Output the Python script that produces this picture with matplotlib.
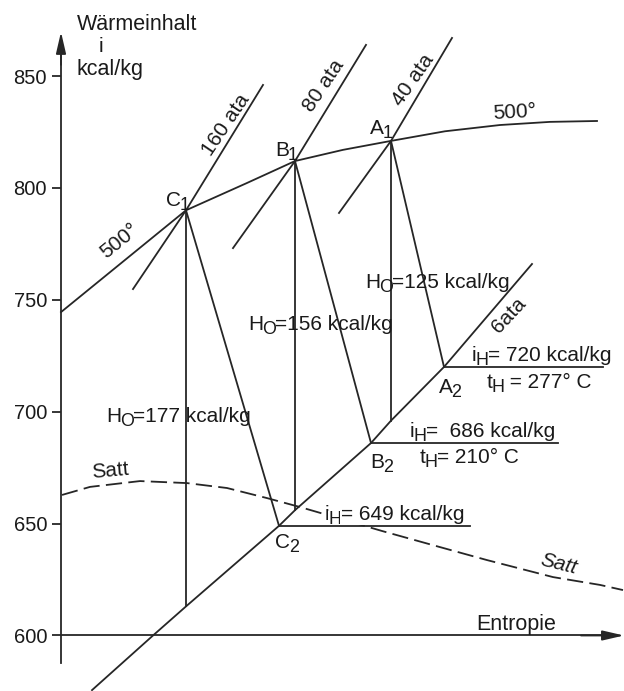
import matplotlib
matplotlib.use("Agg")
import matplotlib.pyplot as plt
import matplotlib.transforms as mtransforms

plt.rcParams['font.family'] = ['Liberation Sans', 'DejaVu Sans']

# ---------------- data (entropy s, enthalpy i in kcal/kg) ----------------
state_names = ["A", "B", "C"]
p_inlet = [40, 80, 160]                 # ata
s_1 = [1.710, 1.614, 1.505]             # inlet states (500 °C)
i_1 = [821, 812, 790]
H_0 = [125, 156, 177]                   # isentropic heat drop
s_2 = [1.763, 1.690, 1.598]             # outlet states on 6 ata
i_2 = [720, 686, 649]                   # i_H
t_H = [277, 210, None]
s_H_end = [1.922, 1.877, 1.789]         # right end of i_H reference lines

# 500 °C isotherm
s_500 = [1.380, 1.505, 1.566, 1.614, 1.662, 1.710, 1.764, 1.819, 1.869, 1.916]
i_500 = [744.5, 790.0, 802.2, 812.0, 817.0, 821.0, 825.3, 828.1, 829.5, 829.9]

# high pressure isobars
s_160 = [1.452, 1.505, 1.582]
i_160 = [754.8, 790.0, 846.0]
s_80 = [1.552, 1.614, 1.685]
i_80 = [773.1, 812.0, 863.9]
s_40 = [1.658, 1.710, 1.771]
i_40 = [788.8, 821.0, 867.0]

# 6 ata back-pressure isobar
s_6 = [1.411, 1.472, 1.505, 1.598, 1.614, 1.690, 1.710, 1.763, 1.851]
i_6 = [575.6, 600.0, 613.0, 649.0, 656.0, 686.0, 696.0, 720.0, 766.0]

# saturation line
s_sat = [1.381, 1.409, 1.459, 1.506, 1.546, 1.586, 1.619, 1.636, 1.701,
         1.759, 1.806, 1.872, 1.919, 1.942]
i_sat = [662.8, 666.4, 669.0, 668.1, 665.9, 661.4, 657.4, 655.2, 646.7,
         639.5, 633.7, 626.1, 622.6, 620.3]

i_ticks = [600, 650, 700, 750, 800, 850]

# ---------------- figure ----------------
W, H = 624, 691
fig = plt.figure(figsize=(W / 100, H / 100), dpi=100)
ax = fig.add_axes([0, 0, 1, 1])
ax.set_xlim(1.319, 1.943)
ax.set_ylim(575.2, 883.96)

LC = '#262626'
TC = '#1a1a1a'
LW = 1.3
FS = 15
SUB = 0.86      # subscript scale
DROP = 3.0      # subscript drop (points)

# axes (spines)
S_AX = 1.380
for side in ('top', 'right'):
    ax.spines[side].set_visible(False)
ax.spines['left'].set_position(('data', S_AX))
ax.spines['left'].set_bounds(587.7, 862)
ax.spines['bottom'].set_position(('data', 600))
ax.spines['bottom'].set_bounds(S_AX, 1.93)
for side in ('left', 'bottom'):
    ax.spines[side].set_color(LC)
    ax.spines[side].set_linewidth(LW)
ax.set_xticks([])
ax.set_yticks(i_ticks)
ax.set_yticklabels([str(v) for v in i_ticks])
ax.tick_params(axis='y', direction='out', length=6.5, width=LW, color=LC,
               pad=3.5, labelsize=14.5, labelcolor=TC)

arrow_kw = dict(arrowstyle='-|>,head_length=1.3,head_width=0.3', color=LC,
                lw=LW, shrinkA=0, shrinkB=0, mutation_scale=10)
ax.annotate('', xy=(S_AX, 869.7), xytext=(S_AX, 855), arrowprops=arrow_kw)
ax.annotate('', xy=(1.943, 600), xytext=(1.90, 600), arrowprops=arrow_kw)

# curves
ax.plot(s_500, i_500, color=LC, lw=LW, zorder=3)
ax.plot(s_160, i_160, color=LC, lw=LW, zorder=3)
ax.plot(s_80, i_80, color=LC, lw=LW, zorder=3)
ax.plot(s_40, i_40, color=LC, lw=LW, zorder=3)
ax.plot(s_6, i_6, color=LC, lw=LW, zorder=3)
ax.plot(s_sat, i_sat, color=LC, lw=LW, linestyle=(0, (9, 3.5)), zorder=2)

for s1, i1, h0, s2, i2, se in zip(s_1, i_1, H_0, s_2, i_2, s_H_end):
    ax.plot([s1, s1], [i1, i1 - h0], color=LC, lw=LW, zorder=3)   # isentropic
    ax.plot([s1, s2], [i1, i2], color=LC, lw=LW, zorder=3)        # real expansion
    ax.plot([s2, se], [i2, i2], color=LC, lw=LW, zorder=3)        # i_H line

# ---------------- text helpers ----------------
PX = mtransforms.Affine2D().scale(1, -1).translate(0, H)   # pixel coords, y down


def chain(t1, sub, rest, size, zorder=5, bbox=None):
    """Append a subscript and trailing text after text t1."""
    t2 = ax.annotate(sub, xy=(1, 0), xycoords=t1, xytext=(-0.9, -DROP),
                     textcoords='offset points', ha='left', va='bottom',
                     fontsize=size * SUB, color=TC, zorder=zorder, bbox=bbox)
    if rest:
        ax.annotate(rest, xy=(1, 0), xycoords=t2, xytext=(-0.3, DROP),
                    textcoords='offset points', ha='left', va='bottom',
                    fontsize=size, color=TC, zorder=zorder, bbox=bbox)


def plabel(s, i, base, sub, dx, dy):
    t1 = ax.annotate(base, xy=(s, i), xytext=(dx, dy), textcoords='offset pixels',
                     ha='left', va='baseline', fontsize=FS, color=TC, zorder=5)
    chain(t1, sub, '', FS)


def ptext(x, y, txt, ha='left', va='baseline', rot=0, size=FS, **kw):
    return ax.text(x, y, txt, transform=PX, ha=ha, va=va, rotation=rot,
                   rotation_mode='anchor', fontsize=size, color=TC, **kw)


def psub(x, y, base, sub, rest, size=FS, zorder=5, bbox=None):
    t1 = ax.text(x, y, base, transform=PX, ha='left', va='baseline',
                 fontsize=size, color=TC, zorder=zorder, bbox=bbox)
    chain(t1, sub, rest, size, zorder, bbox)


# point labels
plabel(s_1[2], i_1[2], 'C', '1', -20, 4)
plabel(s_1[1], i_1[1], 'B', '1', -20, 5)
plabel(s_1[0], i_1[0], 'A', '1', -21, 7)
plabel(s_2[0], i_2[0], 'A', '2', -5, -26)
plabel(s_2[1], i_2[1], 'B', '2', -1, -25)
plabel(s_2[2], i_2[2], 'C', '2', -4, -22)

# axis titles
ptext(77, 30, 'Wärmeinhalt', size=15.5)
ptext(101, 52, 'i', ha='center', size=15)
ptext(77, 75, 'kcal/kg', size=15.5)
ptext(476, 630, 'Entropie', size=15.5)

# heat drops
for h0, (x, y) in zip(H_0, [(365, 288), (248, 330), (106, 422)]):
    psub(x, y, 'H', 'O', f'={h0} kcal/kg')

# outlet enthalpies / temperatures
psub(472, 361, 'i', 'H', f'= {i_2[0]} kcal/kg')
psub(487, 388, 't', 'H', f' = {t_H[0]}° C')
psub(410, 437, 'i', 'H', f'=  {i_2[1]} kcal/kg')
psub(420, 463, 't', 'H', f'= {t_H[1]}° C')
psub(325, 520, 'i', 'H', f'= {i_2[2]} kcal/kg', zorder=2.5,
     bbox=dict(fc='white', ec='none', pad=0.4))

# curve labels
ptext(110, 471, 'Satt', ha='center', va='center', rot=5)
ptext(559, 564, 'Satt', ha='center', va='center', rot=-14, style='italic')
ptext(120, 241, '500°', ha='center', va='center', rot=39)
ptext(515, 112, '500°', ha='center', va='center', rot=3)
ptext(226, 125, f'{p_inlet[2]} ata', ha='center', va='center', rot=56)
ptext(324, 86, f'{p_inlet[1]} ata', ha='center', va='center', rot=56)
ptext(413, 80, f'{p_inlet[0]} ata', ha='center', va='center', rot=55)
ptext(509, 315, '6ata', ha='center', va='center', rot=47)

fig.savefig('out.png', dpi=100, facecolor='white')
